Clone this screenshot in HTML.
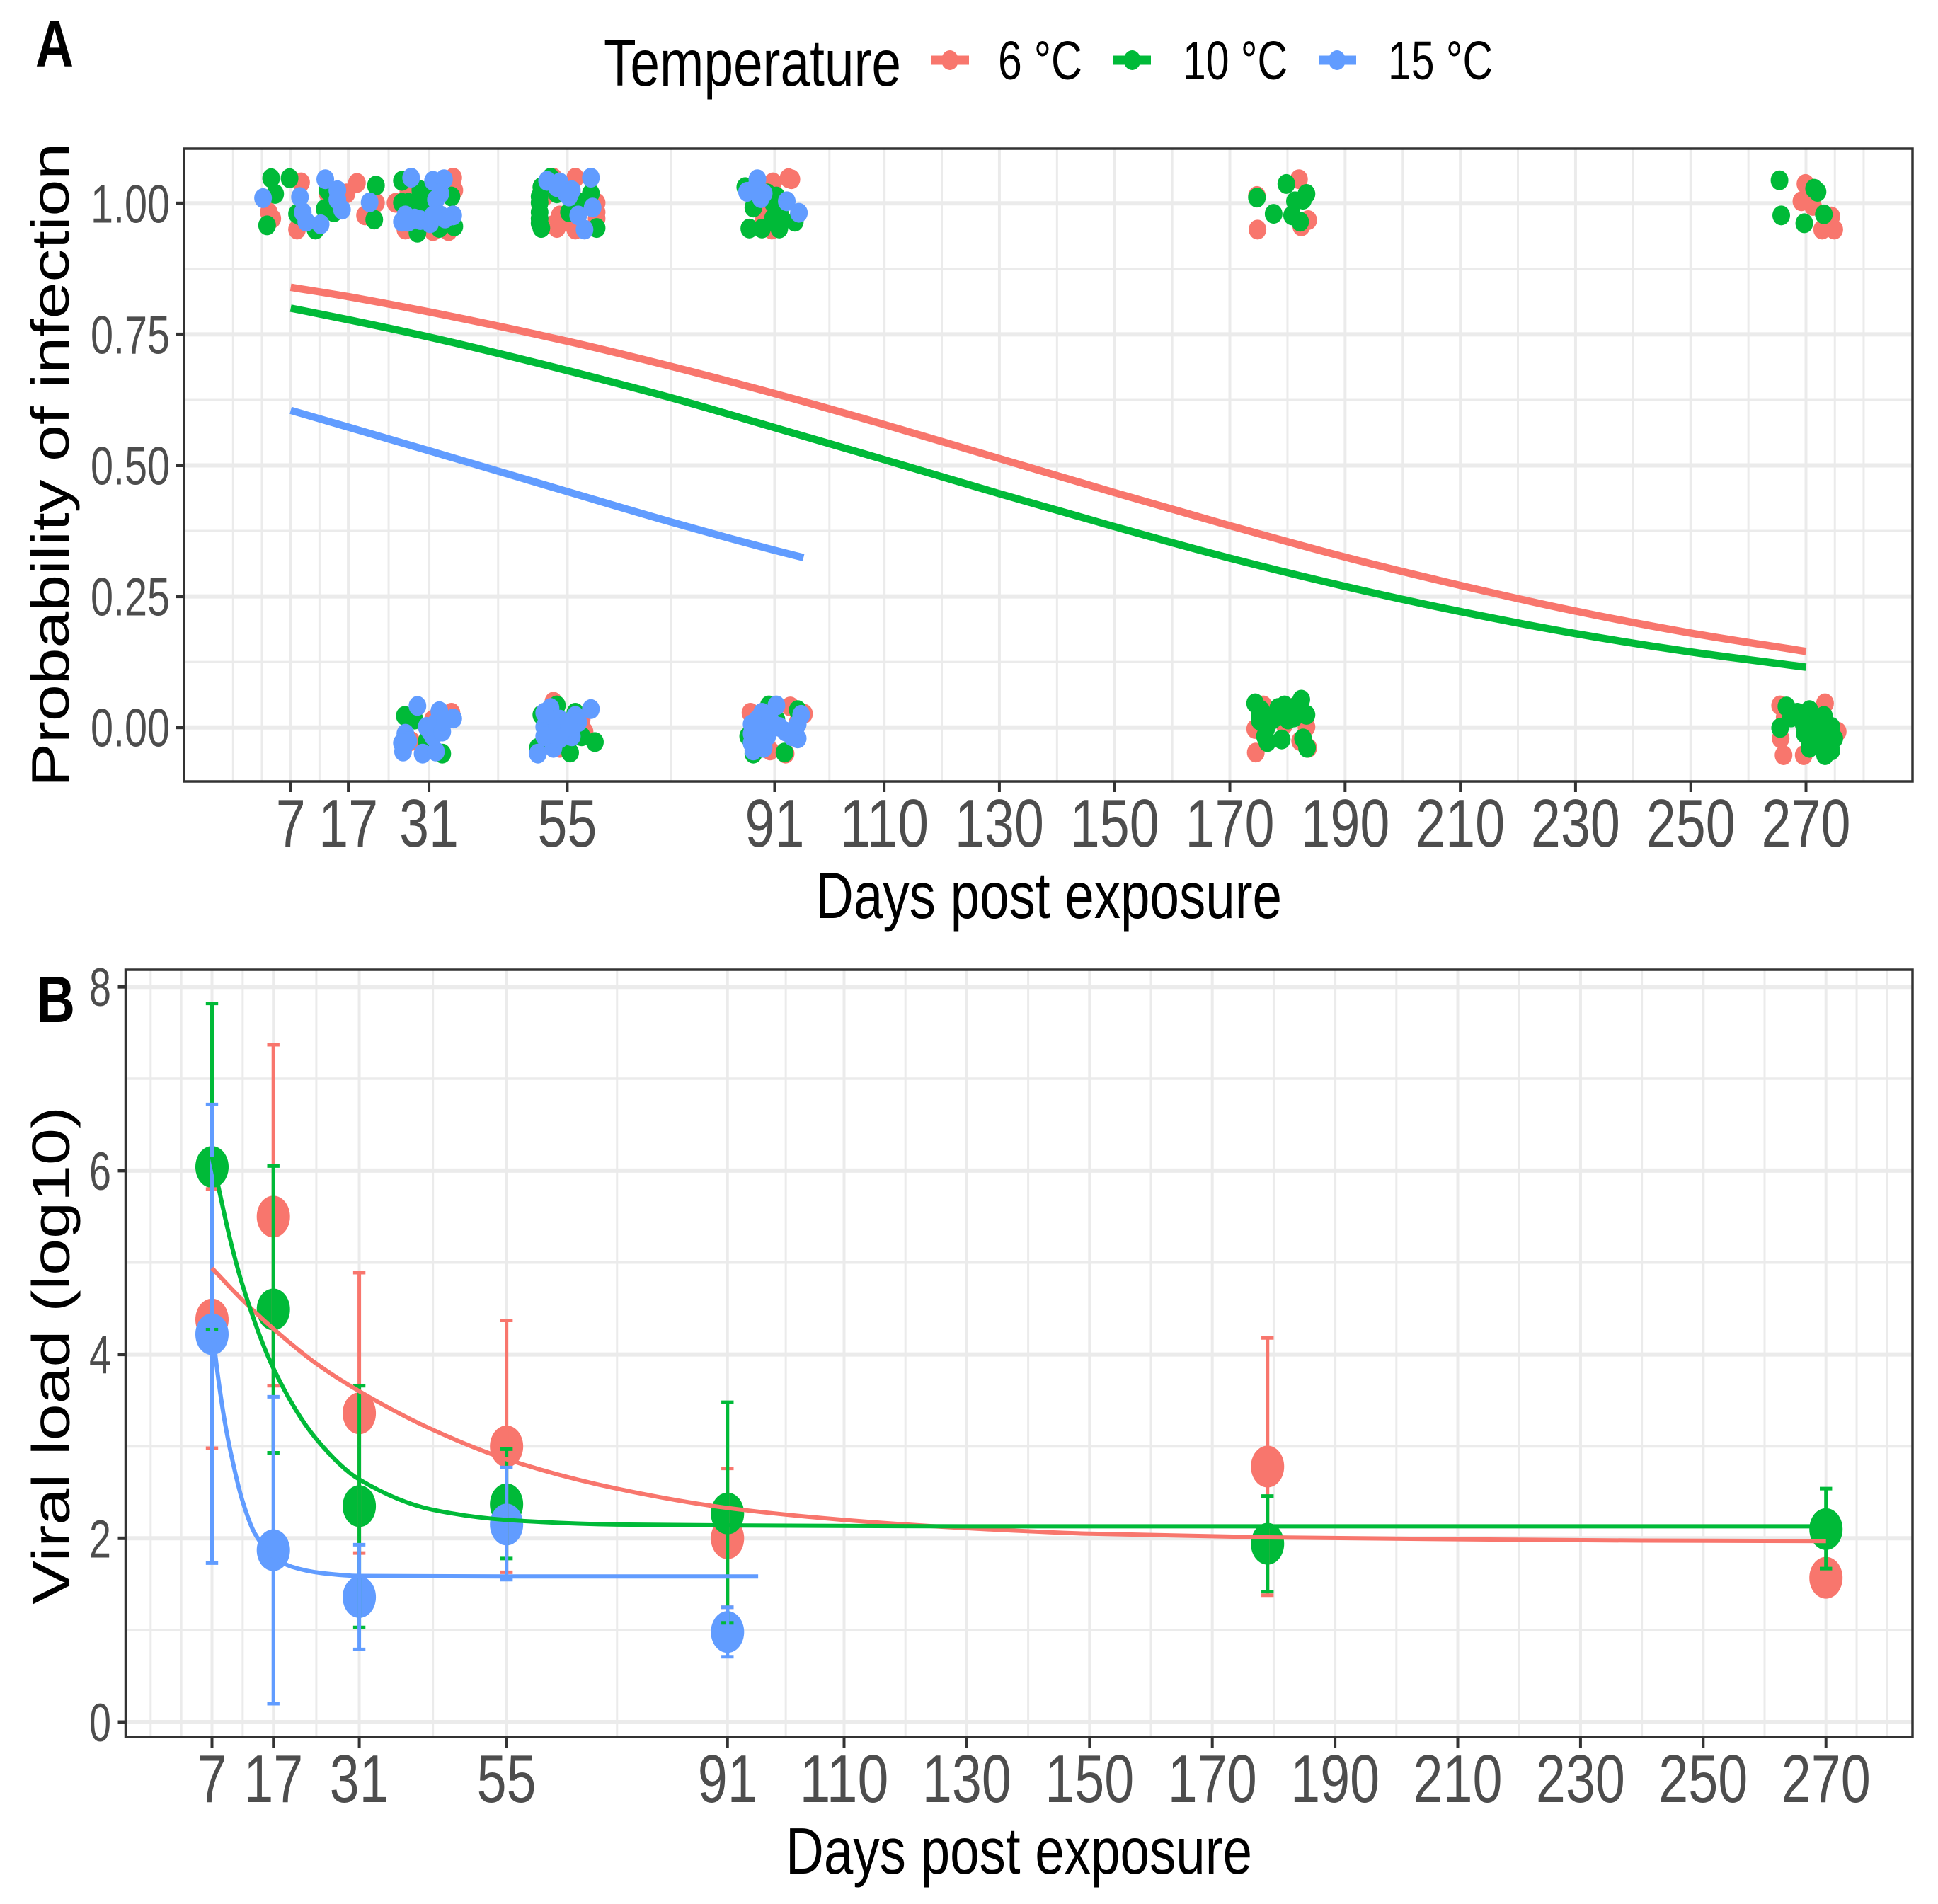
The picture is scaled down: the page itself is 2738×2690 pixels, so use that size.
<!DOCTYPE html>
<html lang="en">
<head>
<meta charset="utf-8">
<title>Probability of infection and viral load by temperature</title>
<style>
html,body{margin:0;padding:0;background:#fff;}
svg{display:block;font-family:"Liberation Sans",sans-serif;}
</style>
</head>
<body>
<svg id="chart" xmlns="http://www.w3.org/2000/svg" width="2738" height="2690" viewBox="0 0 2738 2690">
  <rect x="0" y="0" width="2738" height="2690" fill="#ffffff"/>
  <g id="panelA"></g>
  <g id="panelB"></g>

  <text x="50" y="94" font-size="93" font-weight="bold" textLength="54" lengthAdjust="spacingAndGlyphs" fill="#000">A</text>
  <text x="52" y="1444" font-size="93" font-weight="bold" textLength="54" lengthAdjust="spacingAndGlyphs" fill="#000">B</text>

  <g>
    <text x="853" y="121" font-size="93" textLength="420" lengthAdjust="spacingAndGlyphs" fill="#000">Temperature</text>
    <g>
      <line x1="1316" x2="1369" y1="85" y2="85" stroke="#F8766D" stroke-width="13"/>
      <ellipse cx="1342" cy="85" rx="12" ry="14" fill="#F8766D"/>
      <text x="1410" y="112" font-size="77" textLength="119" lengthAdjust="spacingAndGlyphs" fill="#000">6 °C</text>
    </g>
    <g>
      <line x1="1573" x2="1626" y1="85" y2="85" stroke="#00BA38" stroke-width="13"/>
      <ellipse cx="1599.5" cy="85" rx="12" ry="14" fill="#00BA38"/>
      <text x="1671" y="112" font-size="77" textLength="148" lengthAdjust="spacingAndGlyphs" fill="#000">10 °C</text>
    </g>
    <g>
      <line x1="1863" x2="1916" y1="85" y2="85" stroke="#619CFF" stroke-width="13"/>
      <ellipse cx="1889" cy="85" rx="12" ry="14" fill="#619CFF"/>
      <text x="1961" y="112" font-size="77" textLength="148" lengthAdjust="spacingAndGlyphs" fill="#000">15 °C</text>
    </g>
  </g>

  <text x="1152" y="1297" font-size="93" textLength="659" lengthAdjust="spacingAndGlyphs" fill="#000">Days post exposure</text>
  <text x="1110" y="2647" font-size="93" textLength="659" lengthAdjust="spacingAndGlyphs" fill="#000">Days post exposure</text>
  <text transform="translate(97,1112) rotate(-90)" x="0" y="0" font-size="75" textLength="910" lengthAdjust="spacingAndGlyphs" fill="#000">Probability of infection</text>
  <text transform="translate(98,2267) rotate(-90)" x="0" y="0" font-size="75" textLength="704" lengthAdjust="spacingAndGlyphs" fill="#000">Viral load (log10)</text>
</svg>

<script>
/* ---------- shared axis data ---------- */
const xTickDaysA = [7, 17, 31, 55, 91, 110, 130, 150, 170, 190, 210, 230, 250, 270];
const xTickLabelsA = ["7", "17", "31", "55", "91", "110", "130", "150", "170", "190", "210", "230", "250", "270"];
const xMinorDaysA = [-3, 2, 12, 24, 43, 73, 100.5, 120, 140, 160, 180, 200, 220, 240, 260, 275, 280];
const yTickValuesA = [0, 0.25, 0.5, 0.75, 1];
const yTickLabelsA = ["0.00", "0.25", "0.50", "0.75", "1.00"];
const yMinorValuesA = [0.125, 0.375, 0.625, 0.875];

const xTickDaysB = [7, 17, 31, 55, 91, 110, 130, 150, 170, 190, 210, 230, 250, 270];
const xTickLabelsB = ["7", "17", "31", "55", "91", "110", "130", "150", "170", "190", "210", "230", "250", "270"];
const xMinorDaysB = [-3, 2, 12, 24, 43, 73, 100.5, 120, 140, 160, 180, 200, 220, 240, 260, 275, 280];
const yTickValuesB = [0, 2, 4, 6, 8];
const yTickLabelsB = ["0", "2", "4", "6", "8"];
const yMinorValuesB = [1, 3, 5, 7];

/* ---------- panel A data: jittered observations [day, outcome] ---------- */
const obs6C = [
[3.2,.983],[3.8,.971],[8.8,1.040],[8.1,.950],[13.4,1.019],[18.5,1.039],[19.9,.977],[21.8,1.001],[16.7,1.019],
[35.2,1.049],[35.4,1.025],[26.9,.950],[31.7,.947],[34.4,.947],[25.2,1.001],[27.4,1.025],
[52.6,1.049],[56.4,1.049],[53.2,.953],[56.4,.950],[60.1,.971],[53.7,.977],[60.1,1.001],[51.0,1.013],[55.8,1.019],[54.8,.965],[52.6,.959],[60.1,.983],
[90.7,1.040],[93.4,1.048],[90.5,.950],[89.1,.971],[90.2,.995],[93.9,1.046],[90.2,.965],
[182.0,1.046],[174.7,1.014],[183.6,.968],[182.4,.956],[174.8,.950],
[269.9,1.037],[269.2,1.004],[271.2,.995],[274.4,.975],[272.8,.950],[274.9,.950],
[34.9,.028],[27.9,-.026],[31.7,.015],
[52.6,.049],[58.0,-.008],[53.7,-.039],[57.5,.015],[51.0,-.021],
[86.8,.028],[93.7,.040],[96.1,.026],[90.2,-.044],[92.9,-.050],[95.0,.010],
[175.8,.042],[174.5,-.048],[174.4,-.003],[183.6,-.039],[183.3,.001],[179.5,.006],[182.2,-.026],[180.6,.037],
[265.5,.042],[273.3,.046],[265.6,-.021],[266.1,-.053],[269.6,-.053],[275.5,-.008],[266.3,.019]
];
const obs10C = [
[3.6,1.048],[4.3,1.018],[6.8,1.048],[2.9,.958],[8.1,.980],[12.9,.989],[14.5,.983],[13.4,1.025],[11.3,.950],[21.8,1.034],[21.5,.969],[8.6,.977],
[26.3,1.043],[26.3,1.001],[30.1,1.013],[34.9,1.013],[28.5,1.001],[29.5,1.025],[35.4,.956],[29.0,.944],[32.8,.953],[30.6,.992],[31.7,1.001],[27.4,.989],[29.5,1.001],[30.6,1.013],[27.4,1.001],
[50.5,1.031],[50.2,1.001],[50.2,.983],[50.2,.962],[52.1,1.049],[55.3,.983],[59.1,1.019],[60.1,.953],[57.5,1.001],[53.2,1.019],[50.2,1.013],[50.2,.971],[50.5,.953],
[85.9,1.031],[87.3,.992],[86.6,.952],[88.8,.952],[91.8,.952],[91.3,1.013],[94.5,.965],[92.0,.977],[89.7,1.019],[90.7,.971],[87.5,1.001],[90.7,1.001],[90.7,.965],
[179.8,1.037],[174.7,1.011],[183.3,1.018],[181.3,1.004],[182.7,1.007],[177.6,.980],[180.8,.977],[182.2,.965],
[265.4,1.044],[271.4,1.028],[272.0,1.022],[265.7,.977],[269.7,.962],[273.1,.979],
[26.8,.022],[33.3,-.050],[28.5,.015],[30.6,-.026],
[53.2,.042],[50.5,.024],[59.8,-.028],[55.5,-.048],[49.9,-.039],[57.5,-.017],[56.4,.028],
[90.0,.042],[92.7,-.048],[87.3,-.050],[95.0,.033],[86.4,-.017],[91.3,.015],
[174.4,.046],[175.4,.033],[175.2,.013],[176.3,-.003],[176.5,-.028],[179.0,-.023],[179.5,.042],[180.6,.028],[182.4,.053],[183.3,.024],[181.1,.019],[182.7,-.021],[183.4,-.039],
[175.2,.024],[176.1,-.017],[180.1,.015],[178.4,.037],[181.7,.042],[177.4,.015],
[266.6,.040],[265.5,-.001],[268.5,.028],[270.6,.033],[270.1,.019],[273.1,.022],[274.4,.001],[270.6,-.039],[273.3,-.053],[274.4,-.026],[269.8,-.012],[272.2,-.017],[273.3,-.039],[274.9,-.021],
[271.7,.010],[273.8,-.008],[271.2,-.017],[272.8,.001],[270.6,-.026],[267.4,.019],[271.7,-.030],[274.4,-.044],[269.6,.006]
];
const obs15C = [
[2.2,1.010],[8.6,1.012],[13.0,1.046],[15.1,1.025],[15.1,1.007],[15.9,.988],[20.7,1.002],[9.1,.983],[9.7,.965],[12.2,.960],
[27.9,1.049],[31.7,1.043],[33.6,1.046],[33.0,1.019],[32.2,1.007],[26.9,.977],[29.5,.968],[33.0,.977],[35.2,.977],[27.4,.965],[31.2,.962],[28.5,.971],[33.8,.971],[26.3,.965],[31.7,.977],
[51.5,1.043],[53.7,1.040],[55.8,1.025],[59.1,1.049],[56.9,.977],[59.4,.992],[58.0,.950],[54.8,1.019],[53.2,1.031],[55.3,1.013],
[86.2,1.022],[88.0,1.046],[88.0,1.025],[93.1,1.004],[95.2,.982],[89.1,1.019],[87.2,1.025],[88.6,1.010],
[29.0,.041],[32.8,.031],[35.2,.017],[26.9,-.012],[31.2,-.008],[26.5,-.046],[29.9,-.050],[32.2,-.046],[32.2,.008],[31.7,-.017],[27.4,-.026],[30.6,.001],[26.3,-.030],[33.3,-.008],[33.8,.015],
[59.1,.035],[52.1,.037],[51.5,.019],[51.0,.001],[56.4,.022],[54.2,-.012],[55.8,-.017],[49.9,-.050],[52.6,-.039],[56.9,.010],[52.1,-.012],[51.0,.028],[53.7,.015],[53.2,.001],[55.3,.001],[51.0,-.017],[53.7,-.021],
[91.3,.042],[95.6,.024],[88.8,.028],[88.0,.015],[87.0,-.012],[87.3,-.044],[92.9,-.008],[95.0,-.021],[91.8,.001],[89.7,-.017],[88.0,-.008],[87.0,-.030],[88.0,-.026],[90.2,.015],[94.0,-.017],[95.0,.006],[87.0,.006],[89.1,-.039]
];

/* panel A fitted curves */
const probDays = [7, 17, 31, 55, 73, 91, 110, 130, 150, 170, 190, 210, 230, 250, 270];
const prob6C = [.84, .822, .793, .737, .689, .637, .578, .513, .448, .385, .325, .271, .222, .18, .145];
const prob10C = [.80, .778, .745, .681, .629, .572, .511, .446, .383, .323, .269, .221, .179, .144, .115];
const probDays15C = [7, 17, 31, 55, 73, 91, 96];
const prob15C = [.605, .573, .528, .45, .392, .338, .324];

/* ---------- panel B data ---------- */
const loadDays6C = [7, 17, 31, 55, 91, 179, 270];
const loadMean6C = [4.38, 5.5, 3.36, 3.0, 2.0, 2.78, 1.57];
const loadHigh6C = [5.8, 7.37, 4.89, 4.37, 2.76, 4.18, null];
const loadLow6C = [2.98, 3.66, 1.84, 1.63, 1.25, 1.38, null];

const loadDays10C = [7, 17, 31, 55, 91, 179, 270];
const loadMean10C = [6.04, 4.49, 2.35, 2.37, 2.27, 1.94, 2.10];
const loadHigh10C = [7.82, 6.05, 3.66, 2.97, 3.48, 2.46, 2.54];
const loadLow10C = [4.27, 2.93, 1.03, 1.78, 1.08, 1.42, 1.67];

const loadDays15C = [7, 17, 31, 55, 91];
const loadMean15C = [4.22, 1.87, 1.36, 2.15, 0.98];
const loadHigh15C = [6.72, 3.54, 1.93, 2.77, 1.25];
const loadLow15C = [1.73, 0.2, 0.79, 1.55, 0.71];

const fitDays6C = [7, 12, 17, 24, 31, 43, 55, 73, 91, 110, 130, 150, 179, 210, 240, 270];
const fit6C = [4.94, 4.59, 4.28, 3.9, 3.6, 3.18, 2.86, 2.54, 2.33, 2.2, 2.11, 2.05, 2.01, 1.99, 1.975, 1.97];
const fitDays10C = [7, 10, 12, 17, 24, 31, 43, 55, 73, 91, 130, 179, 270];
const fit10C = [6.15, 5.24, 4.75, 3.85, 3.08, 2.64, 2.31, 2.2, 2.15, 2.14, 2.13, 2.13, 2.13];
const fitDays15C = [7, 8, 9, 10, 12, 14, 17, 20, 25, 31, 55, 96];
const fit15C = [4.3, 3.75, 3.3, 2.95, 2.4, 2.05, 1.8, 1.69, 1.62, 1.59, 1.585, 1.585];

/* ---------- drawing ---------- */
const NS = "http://www.w3.org/2000/svg";
const COL6 = "#F8766D", COL10 = "#00BA38", COL15 = "#619CFF";
const GRID = "#EBEBEB", AXIS = "#333333", TICKTXT = "#4D4D4D";

const panelA = { left: 260, right: 2702, top: 210, bottom: 1104 };
const panelB = { left: 177.5, right: 2702, top: 1370, bottom: 2454 };

function xA(d) { return 410.7 + (d - 7) * 8.14; }
function yA(v) { return 1027.7 - v * 740.4; }
function xB(d) { return 299.5 + (d - 7) * 8.67; }
function yB(v) { return 2433 - v * 129.85; }

function addLine(parent, x1, y1, x2, y2, color, width, name) {
  const el = document.createElementNS(NS, "line");
  el.setAttribute("x1", x1);
  el.setAttribute("y1", y1);
  el.setAttribute("x2", x2);
  el.setAttribute("y2", y2);
  el.setAttribute("stroke", color);
  el.setAttribute("stroke-width", width);
  
  
  parent.appendChild(el);
}
function addEllipse(parent, cx, cy, rx, ry, color, name) {
  const el = document.createElementNS(NS, "ellipse");
  el.setAttribute("cx", cx);
  el.setAttribute("cy", cy);
  el.setAttribute("rx", rx);
  el.setAttribute("ry", ry);
  el.setAttribute("fill", color);
  
  
  parent.appendChild(el);
}
function addText(parent, str, x, y, size, anchor, len, name) {
  const el = document.createElementNS(NS, "text");
  el.setAttribute("x", x);
  el.setAttribute("y", y);
  el.setAttribute("font-size", size);
  el.setAttribute("text-anchor", anchor);
  el.setAttribute("textLength", len);
  el.setAttribute("lengthAdjust", "spacingAndGlyphs");
  el.setAttribute("fill", TICKTXT);
  
  
  el.textContent = str;
  parent.appendChild(el);
}
/* monotone cubic path through data points, evaluated through the axis functions */
function curvePath(xs, ys, fx, fy) {
  const px = xs.map(fx), py = ys.map(fy), n = px.length;
  const sl = [], tan = [];
  for (let i = 0; i < n - 1; i++) sl.push((py[i + 1] - py[i]) / (px[i + 1] - px[i]));
  tan.push(sl[0]);
  for (let i = 1; i < n - 1; i++) {
    if (sl[i - 1] * sl[i] <= 0) { tan.push(0); continue; }
    const h0 = px[i] - px[i - 1], h1 = px[i + 1] - px[i];
    tan.push(3 * (h0 + h1) / ((2 * h1 + h0) / sl[i - 1] + (h1 + 2 * h0) / sl[i]));
  }
  tan.push(sl[n - 2]);
  let d = "M" + px[0].toFixed(2) + " " + py[0].toFixed(2);
  for (let i = 0; i < n - 1; i++) {
    const h = (px[i + 1] - px[i]) / 3;
    d += "C" + (px[i] + h).toFixed(2) + " " + (py[i] + h * tan[i]).toFixed(2) + " " +
         (px[i + 1] - h).toFixed(2) + " " + (py[i + 1] - h * tan[i + 1]).toFixed(2) + " " +
         px[i + 1].toFixed(2) + " " + py[i + 1].toFixed(2);
  }
  return d;
}
function addCurve(parent, xs, ys, fx, fy, color, width, name) {
  const el = document.createElementNS(NS, "path");
  el.setAttribute("d", curvePath(xs, ys, fx, fy));
  el.setAttribute("fill", "none");
  el.setAttribute("stroke", color);
  el.setAttribute("stroke-width", width);
  
  
  parent.appendChild(el);
}
function addBorder(parent, p, name) {
  const el = document.createElementNS(NS, "rect");
  el.setAttribute("x", p.left);
  el.setAttribute("y", p.top);
  el.setAttribute("width", p.right - p.left);
  el.setAttribute("height", p.bottom - p.top);
  el.setAttribute("fill", "none");
  el.setAttribute("stroke", AXIS);
  el.setAttribute("stroke-width", 3.5);
  
  
  parent.appendChild(el);
}
function tickWidth(label) { return label.length === 1 ? 42 : label.length === 2 ? 84 : 126; }

/* ---- Panel A ---- */
const gA = document.getElementById("panelA");
yMinorValuesA.forEach(function (v) { addLine(gA, panelA.left, yA(v), panelA.right, yA(v), GRID, 3, "y-minor-gridline"); });
xMinorDaysA.forEach(function (d) { addLine(gA, xA(d), panelA.top, xA(d), panelA.bottom, GRID, 3, "x-minor-gridline"); });
yTickValuesA.forEach(function (v) { addLine(gA, panelA.left, yA(v), panelA.right, yA(v), GRID, 6, "y-major-gridline"); });
xTickDaysA.forEach(function (d) { addLine(gA, xA(d), panelA.top, xA(d), panelA.bottom, GRID, 4, "x-major-gridline"); });

obs6C.forEach(function (p) { addEllipse(gA, xA(p[0]), yA(p[1]), 12.5, 14, COL6, "observation-6c"); });
obs10C.forEach(function (p) { addEllipse(gA, xA(p[0]), yA(p[1]), 12.5, 14, COL10, "observation-10c"); });
obs15C.forEach(function (p) { addEllipse(gA, xA(p[0]), yA(p[1]), 12.5, 14, COL15, "observation-15c"); });

addCurve(gA, probDays, prob6C, xA, yA, COL6, 10.5, "infection-curve-6c");
addCurve(gA, probDays, prob10C, xA, yA, COL10, 10.5, "infection-curve-10c");
addCurve(gA, probDays15C, prob15C, xA, yA, COL15, 10.5, "infection-curve-15c");

addBorder(gA, panelA, "panel-a-border");

yTickValuesA.forEach(function (v, i) {
  addLine(gA, panelA.left - 11, yA(v), panelA.left, yA(v), AXIS, 5, "y-tick-a");
  addText(gA, yTickLabelsA[i], 240, yA(v) + 27, 76, "end", 112, "y-tick-label-a");
});
xTickDaysA.forEach(function (d, i) {
  addLine(gA, xA(d), panelA.bottom, xA(d), panelA.bottom + 15, AXIS, 4, "x-tick-a");
  addText(gA, xTickLabelsA[i], xA(d), 1196, 96, "middle", tickWidth(xTickLabelsA[i]), "x-tick-label-a");
});

/* ---- Panel B ---- */
const gB = document.getElementById("panelB");
yMinorValuesB.forEach(function (v) { addLine(gB, panelB.left, yB(v), panelB.right, yB(v), GRID, 3.5, "y-minor-gridline"); });
xMinorDaysB.forEach(function (d) { addLine(gB, xB(d), panelB.top, xB(d), panelB.bottom, GRID, 3, "x-minor-gridline"); });
yTickValuesB.forEach(function (v) { addLine(gB, panelB.left, yB(v), panelB.right, yB(v), GRID, 6, "y-major-gridline"); });
xTickDaysB.forEach(function (d) { addLine(gB, xB(d), panelB.top, xB(d), panelB.bottom, GRID, 4, "x-major-gridline"); });

function drawPoints(days, means, color, name) {
  days.forEach(function (d, i) { addEllipse(gB, xB(d), yB(means[i]), 23.5, 29.5, color, name); });
}
function drawBars(days, lows, highs, color, name) {
  days.forEach(function (d, i) {
    if (lows[i] === null || highs[i] === null) return;
    addLine(gB, xB(d), yB(lows[i]), xB(d), yB(highs[i]), color, 5, name);
    addLine(gB, xB(d) - 8.7, yB(highs[i]), xB(d) + 8.7, yB(highs[i]), color, 5, name + "-cap-high");
    addLine(gB, xB(d) - 8.7, yB(lows[i]), xB(d) + 8.7, yB(lows[i]), color, 5, name + "-cap-low");
  });
}
drawPoints(loadDays6C, loadMean6C, COL6, "viral-load-point-6c");
drawPoints(loadDays10C, loadMean10C, COL10, "viral-load-point-10c");
drawPoints(loadDays15C, loadMean15C, COL15, "viral-load-point-15c");
drawBars(loadDays6C, loadLow6C, loadHigh6C, COL6, "error-bar-6c");
drawBars(loadDays10C, loadLow10C, loadHigh10C, COL10, "error-bar-10c");
drawBars(loadDays15C, loadLow15C, loadHigh15C, COL15, "error-bar-15c");
addCurve(gB, fitDays6C, fit6C, xB, yB, COL6, 6, "viral-load-curve-6c");
addCurve(gB, fitDays10C, fit10C, xB, yB, COL10, 6, "viral-load-curve-10c");
addCurve(gB, fitDays15C, fit15C, xB, yB, COL15, 6, "viral-load-curve-15c");

addBorder(gB, panelB, "panel-b-border");

yTickValuesB.forEach(function (v, i) {
  addLine(gB, panelB.left - 11, yB(v), panelB.left, yB(v), AXIS, 5, "y-tick-b");
  addText(gB, yTickLabelsB[i], 157, yB(v) + 27, 76, "end", 31, "y-tick-label-b");
});
xTickDaysB.forEach(function (d, i) {
  addLine(gB, xB(d), panelB.bottom, xB(d), panelB.bottom + 15, AXIS, 4, "x-tick-b");
  addText(gB, xTickLabelsB[i], xB(d), 2546, 96, "middle", tickWidth(xTickLabelsB[i]), "x-tick-label-b");
});
</script>
</body>
</html>
